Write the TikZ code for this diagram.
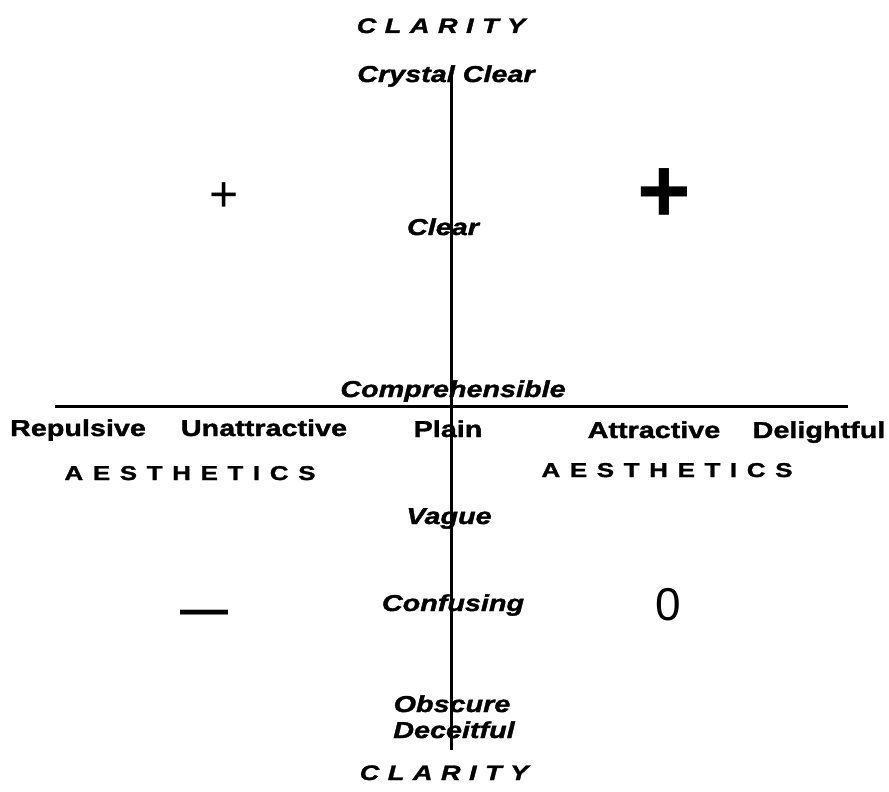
\documentclass[tikz,border=0pt]{standalone}
\usepackage{fontspec}
\setmainfont{Liberation Sans}
\newfontfamily\widefont[FakeStretch=1.25,FakeBold=1.5]{Liberation Sans}
\newfontfamily\clarfont[FakeStretch=1.3,FakeBold=1.5,LetterSpace=40]{Liberation Sans}
\newfontfamily\aesfont[FakeStretch=1.3,FakeBold=1.5,LetterSpace=48]{Liberation Sans}
\usepackage{tikz}

\begin{document}
\begin{tikzpicture}[x=1pt, y=-1pt,
  every node/.style={inner sep=0pt, anchor=base},
  clarity/.style={font=\widefont\bfseries\itshape\fontsize{23}{27}\selectfont},
  aesth/.style={font=\widefont\bfseries\fontsize{23}{27}\selectfont},
  claritytitle/.style={font=\clarfont\bfseries\itshape\fontsize{21}{25}\selectfont},
  aesthtitle/.style={font=\aesfont\bfseries\fontsize{20}{24}\selectfont},
  axis/.style={line width=3pt}]

\useasboundingbox (0,0) rectangle (889,792);

% axes
\coordinate (top) at (451,75);
\coordinate (bottom) at (451,750);
\coordinate (left) at (55,406);
\coordinate (right) at (848,406);
\draw[axis] (top) -- (bottom);
\draw[axis] (left) -- (right);

% clarity scale
\node[claritytitle] (clartop) at (441,33) {CLARITY};
\node[clarity] (crystal) at (446,82) {Crystal Clear};
\node[clarity] (clear) at (443,235) {Clear};
\node[clarity] (compr) at (453,397) {Comprehensible};
\node[clarity] (vague) at (449,524) {Vague};
\node[clarity] (confus) at (453,611) {Confusing};
\node[clarity] (obscure) at (452,712) {Obscure};
\node[clarity] (deceit) at (454,738) {Deceitful};
\node[claritytitle] (clarbot) at (444,780) {CLARITY};

% aesthetics scale
\node[aesth] (repuls) at (78,436) {Repulsive};
\node[aesth] (unattr) at (264,436) {Unattractive};
\node[aesth] (plain) at (448,437) {Plain};
\node[aesth] (attr) at (654,438) {Attractive};
\node[aesth] (delight) at (819,438) {Delightful};
\node[aesthtitle] (aesleft) at (190,480) {AESTHETICS};
\node[aesthtitle] (aesright) at (667,477) {AESTHETICS};

% quadrant marks
\node[font=\fontsize{50}{50}\selectfont, anchor=center] (plussmall) at (224,197) {+};
\node[font=\bfseries\fontsize{92}{92}\selectfont, anchor=center] (plusbig) at (664,196) {+};
\node[font=\bfseries\fontsize{48}{48}\selectfont, anchor=center] (minus) at (204,618) {---};
\node[font=\fontsize{46}{46}\selectfont, anchor=center] (zero) at (668,605) {0};

\end{tikzpicture}
\end{document}
